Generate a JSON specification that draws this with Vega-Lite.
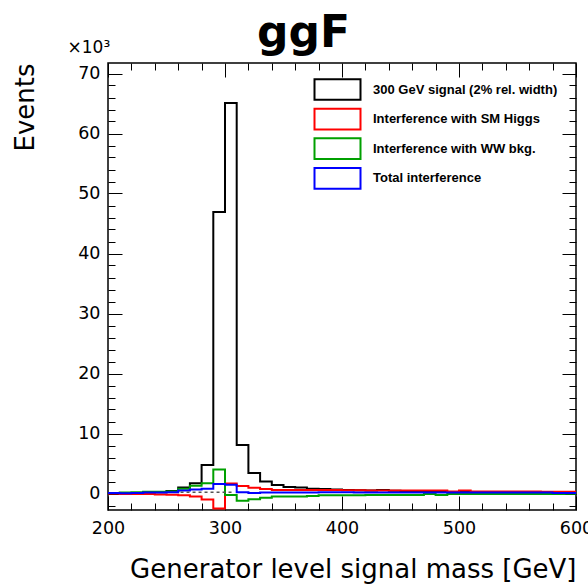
{
  "$schema": "https://vega.github.io/schema/vega-lite/v6.json",
  "width": 468,
  "height": 447,
  "autosize": "none",
  "padding": {"left": 108, "top": 63, "right": 12, "bottom": 77},
  "background": "white",
  "config": {"view": {"stroke": "black", "strokeWidth": 1.5}, "font": "DejaVu Sans"},
  "title": {"text": "ggF", "font": "DejaVu Sans", "fontWeight": "bold", "fontSize": 44, "anchor": "start", "frame": "group", "dx": 149, "dy": 53, "baseline": "alphabetic", "offset": 0, "color": "black"},
  "resolve": {"axis": {"x": "independent", "y": "independent"}},
  "layer": [
    {
      "data": {"values": [
        {"m":200,"sig":0.05,"hig":0.0,"ww":0.1,"tot":0.1},
        {"m":210,"sig":0.05,"hig":-0.1,"ww":0.15,"tot":0.05},
        {"m":220,"sig":0.1,"hig":-0.1,"ww":0.2,"tot":0.1},
        {"m":230,"sig":0.15,"hig":-0.1,"ww":0.3,"tot":0.15},
        {"m":240,"sig":0.2,"hig":-0.15,"ww":0.3,"tot":0.15},
        {"m":250,"sig":0.4,"hig":-0.2,"ww":0.35,"tot":0.2},
        {"m":260,"sig":1.0,"hig":-0.3,"ww":0.8,"tot":0.5},
        {"m":270,"sig":1.7,"hig":-0.5,"ww":1.3,"tot":0.65},
        {"m":280,"sig":4.75,"hig":-1.0,"ww":1.7,"tot":0.8},
        {"m":290,"sig":46.9,"hig":-2.5,"ww":4.0,"tot":1.6},
        {"m":300,"sig":65.1,"hig":1.65,"ww":-0.25,"tot":1.45},
        {"m":310,"sig":8.1,"hig":1.25,"ww":-1.2,"tot":0.2},
        {"m":320,"sig":3.4,"hig":0.95,"ww":-0.95,"tot":0.1},
        {"m":330,"sig":2.0,"hig":0.75,"ww":-0.7,"tot":0.15},
        {"m":340,"sig":1.4,"hig":0.6,"ww":-0.5,"tot":0.15},
        {"m":350,"sig":1.1,"hig":0.6,"ww":-0.5,"tot":0.15},
        {"m":360,"sig":1.0,"hig":0.6,"ww":-0.5,"tot":0.15},
        {"m":370,"sig":0.8,"hig":0.6,"ww":-0.4,"tot":0.15},
        {"m":380,"sig":0.75,"hig":0.6,"ww":-0.3,"tot":0.2},
        {"m":390,"sig":0.65,"hig":0.6,"ww":-0.3,"tot":0.2},
        {"m":400,"sig":0.6,"hig":0.55,"ww":-0.3,"tot":0.2},
        {"m":410,"sig":0.55,"hig":0.55,"ww":-0.3,"tot":0.15},
        {"m":420,"sig":0.5,"hig":0.5,"ww":-0.25,"tot":0.15},
        {"m":430,"sig":0.6,"hig":0.5,"ww":-0.25,"tot":0.15},
        {"m":440,"sig":0.45,"hig":0.5,"ww":-0.25,"tot":0.15},
        {"m":450,"sig":0.4,"hig":0.5,"ww":-0.25,"tot":0.15},
        {"m":460,"sig":0.35,"hig":0.5,"ww":-0.25,"tot":0.15},
        {"m":470,"sig":0.3,"hig":0.5,"ww":-0.1,"tot":0.15},
        {"m":480,"sig":0.3,"hig":0.5,"ww":-0.25,"tot":0.15},
        {"m":490,"sig":0.25,"hig":0.35,"ww":-0.1,"tot":0.15},
        {"m":500,"sig":0.25,"hig":0.5,"ww":-0.1,"tot":0.15},
        {"m":510,"sig":0.2,"hig":0.35,"ww":-0.1,"tot":0.15},
        {"m":520,"sig":0.2,"hig":0.35,"ww":-0.1,"tot":0.15},
        {"m":530,"sig":0.2,"hig":0.35,"ww":-0.1,"tot":0.15},
        {"m":540,"sig":0.15,"hig":0.35,"ww":-0.1,"tot":0.15},
        {"m":550,"sig":0.15,"hig":0.35,"ww":-0.1,"tot":0.15},
        {"m":560,"sig":0.15,"hig":0.35,"ww":-0.1,"tot":0.15},
        {"m":570,"sig":0.1,"hig":0.3,"ww":-0.1,"tot":0.15},
        {"m":580,"sig":0.1,"hig":0.3,"ww":-0.1,"tot":0.1},
        {"m":590,"sig":0.15,"hig":0.3,"ww":-0.05,"tot":0.1},
        {"m":600,"sig":0.15,"hig":0.3,"ww":-0.05,"tot":0.1}
      ]},
      "transform": [{"fold": ["sig", "hig", "ww", "tot"], "as": ["s", "v"]}],
      "mark": {"type": "line", "interpolate": "step-after", "strokeWidth": 2, "clip": true},
      "encoding": {
        "x": {"field": "m", "type": "quantitative",
          "scale": {"domain": [200, 600], "nice": false, "zero": false},
          "axis": {"orient": "bottom",
            "values": [200,220,240,260,280,300,320,340,360,380,400,420,440,460,480,500,520,540,560,580,600],
            "tickSize": {"condition": {"test": "datum.value % 100 === 0", "value": -14}, "value": -7},
            "labelExpr": "datum.value % 100 === 0 ? datum.label : ''",
            "labelPadding": 23, "labelFontSize": 17.5, "labelFont": "DejaVu Sans", "labelColor": "black",
            "labelFlush": false, "labelOverlap": false, "tickColor": "black", "tickWidth": 1,
            "domain": false, "grid": false,
            "title": "Generator level signal mass [GeV]", "titleFont": "DejaVu Sans", "titleFontSize": 26,
            "titleFontWeight": "normal", "titleColor": "black", "titleAlign": "right", "titleBaseline": "alphabetic",
            "titleX": 468, "titleY": 67}},
        "y": {"field": "v", "type": "quantitative",
          "scale": {"domain": [-2.75, 71.75], "nice": false, "zero": false},
          "axis": {"orient": "left",
            "values": [-2,0,2,4,6,8,10,12,14,16,18,20,22,24,26,28,30,32,34,36,38,40,42,44,46,48,50,52,54,56,58,60,62,64,66,68,70],
            "tickSize": {"condition": {"test": "datum.value % 10 === 0", "value": -14}, "value": -7},
            "labelExpr": "datum.value % 10 === 0 ? datum.label : ''",
            "labelPadding": 22, "labelFontSize": 17.5, "labelFont": "DejaVu Sans", "labelColor": "black",
            "labelFlush": false, "labelOverlap": false, "tickColor": "black", "tickWidth": 1,
            "domain": false, "grid": false,
            "title": "Events", "titleFont": "DejaVu Sans", "titleFontSize": 26, "titleFontWeight": "normal",
            "titleColor": "black", "titleAngle": 270, "titleAlign": "right", "titleBaseline": "alphabetic",
            "titleX": -75, "titleY": 0}},
        "color": {"field": "s", "type": "nominal",
          "scale": {"domain": ["sig", "hig", "ww", "tot"], "range": ["#000000", "#ff0000", "#00a000", "#0000ff"]},
          "legend": {"orient": "none", "legendX": 217, "legendY": 14, "title": null, "padding": 0,
            "symbolType": "M-2,-0.9H2V0.9H-2Z", "symbolSize": 529, "symbolStrokeWidth": 2,
            "symbolFillColor": "transparent", "labelFont": "Liberation Sans", "labelFontWeight": "bold",
            "labelFontSize": 13, "labelOffset": 23, "rowPadding": 0.6, "labelLimit": 400, "labelColor": "black",
            "labelExpr": "datum.value === 'sig' ? '300 GeV signal (2% rel. width)' : datum.value === 'hig' ? 'Interference with SM Higgs' : datum.value === 'ww' ? 'Interference with WW bkg.' : 'Total interference'"}}
      }
    },
    {
      "data": {"values": [{"m": 262, "v": 0.2}, {"m": 308, "v": 0.2}]},
      "mark": {"type": "line", "color": "#555555", "strokeWidth": 1.5, "strokeDash": [3, 3]},
      "encoding": {
        "x": {"field": "m", "type": "quantitative",
          "scale": {"domain": [200, 600], "nice": false, "zero": false},
          "axis": {"orient": "top",
            "values": [200,220,240,260,280,300,320,340,360,380,400,420,440,460,480,500,520,540,560,580,600],
            "tickSize": {"condition": {"test": "datum.value % 100 === 0", "value": -14}, "value": -7},
            "labels": false, "tickColor": "black", "tickWidth": 1, "domain": false, "grid": false,
            "title": "×10³", "titleFont": "DejaVu Sans", "titleFontSize": 17, "titleFontWeight": "normal",
            "titleColor": "black", "titleAlign": "left", "titleBaseline": "alphabetic", "titleAngle": 0,
            "titleX": -41, "titleY": -11}},
        "y": {"field": "v", "type": "quantitative",
          "scale": {"domain": [-2.75, 71.75], "nice": false, "zero": false},
          "axis": {"orient": "right",
            "values": [-2,0,2,4,6,8,10,12,14,16,18,20,22,24,26,28,30,32,34,36,38,40,42,44,46,48,50,52,54,56,58,60,62,64,66,68,70],
            "tickSize": {"condition": {"test": "datum.value % 10 === 0", "value": -14}, "value": -7},
            "labels": false, "tickColor": "black", "tickWidth": 1, "domain": false, "grid": false, "title": null}}
      }
    }
  ]
}
